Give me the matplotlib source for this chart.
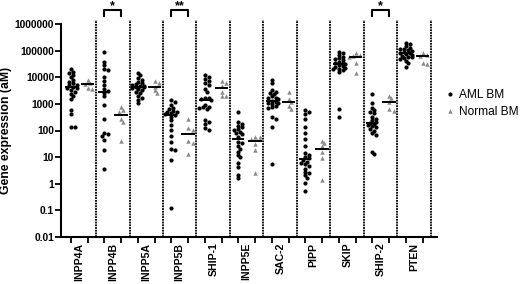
import numpy as np
import matplotlib
matplotlib.use("Agg")
import matplotlib.pyplot as plt
from matplotlib.lines import Line2D

plt.rcParams['font.family'] = ['Liberation Sans', 'DejaVu Sans']

genes = ["INPP4A", "INPP4B", "INPP5A", "INPP5B", "SHIP-1", "INPP5E",
         "SAC-2", "PIPP", "SKIP", "SHIP-2", "PTEN"]

# gene expression (aM), AML bone marrow samples
aml_bm = [
    [20000, 16000, 14000, 12000, 10000, 7800, 6800, 5900, 5100, 5000, 4400,
     4000, 3800, 3300, 2800, 2300, 1900, 1500, 590, 400, 140, 130],            # INPP4A
    [91000, 38000, 29000, 20000, 18000, 10500, 7400, 5100, 3500, 3100, 2600,
     1900, 910, 260, 78, 74, 62, 44, 18, 3.7],                                  # INPP4B
    [15000, 12000, 9100, 7800, 6800, 5900, 5600, 5100, 4800, 4700, 4400, 4200,
     3800, 3500, 3300, 2800, 2500, 1900, 1600, 1400, 1050],                     # INPP5A
    [1400, 1200, 890, 720, 620, 550, 510, 480, 440, 420, 380, 330, 250, 160,
     105, 62, 38, 21, 19, 8.1, 0.12],                                           # INPP5B
    [12000, 10500, 8300, 7200, 5900, 5100, 3500, 2900, 1700, 1600, 1500, 1400,
     890, 780, 740, 680, 620, 250, 210, 180, 120, 105],                         # SHIP-1
    [500, 210, 180, 145, 130, 110, 105, 91, 83, 74, 59, 38, 33, 26, 21, 16,
     12, 10, 5.8, 4.4, 2.1, 1.6],                                               # INPP5E
    [7800, 5900, 3300, 2800, 2600, 2300, 1900, 1700, 1600, 1500, 1300, 1200,
     1100, 1050, 980, 830, 740, 680, 330, 280, 130, 5.5],                       # SAC-2
    [590, 510, 420, 280, 140, 78, 50, 26, 14, 12, 10, 8.9, 7.8, 6.8, 6.2, 5.5,
     4.6, 3.7, 2.8, 2.5, 2.1, 1.7, 1.05, 0.55],                                 # PIPP
    [91000, 79000, 68000, 59000, 51000, 47000, 45000, 38000, 35000, 33000,
     32000, 29000, 26000, 25000, 23000, 21000, 20000, 19000, 16000, 620, 310],  # SKIP
    [2300, 1050, 720, 590, 510, 440, 330, 280, 250, 210, 195, 175, 160, 145,
     130, 115, 98, 78, 68, 16, 13],                                             # SHIP-2
    [200000, 180000, 150000, 130000, 120000, 112000, 105000, 100000, 91000,
     83000, 79000, 74000, 68000, 63000, 59000, 56000, 51000, 47000, 42000,
     35000, 25000],                                                             # PTEN
]

# gene expression (aM), normal bone marrow samples
normal_bm = [
    [7800, 6200, 5500, 4100, 3700],
    [740, 590, 510, 260, 200, 42],
    [7100, 6300, 4400, 3200, 2600],
    [280, 120, 105, 42, 35, 13],
    [7100, 6000, 4800, 2800, 2000, 1900],
    [59, 55, 49, 31, 19, 2.6],
    [2800, 1500, 1200, 830, 660],
    [42, 33, 26, 15, 8.9, 1.4],
    [79000, 66000, 63000, 56000, 35000, 15000],
    [1950, 1600, 1200, 620, 550],
    [79000, 71000, 63000, 35000, 32000],
]

significance = [(1, "*"), (3, "**"), (9, "*")]

ytick_vals = [0.01, 0.1, 1, 10, 100, 1000, 10000, 100000, 1000000]
ytick_labels = ["0.01", "0.1", "1", "10", "100", "1000", "10000", "100000", "1000000"]

W, H = 520, 284
fig = plt.figure(figsize=(W / 100, H / 100), dpi=100)
ax_px = [61, 47, 376, 213]
ax = fig.add_axes([ax_px[0] / W, ax_px[1] / H, ax_px[2] / W, ax_px[3] / H])
xmin, xmax = -0.045, 11.18
ax.set_xlim(xmin, xmax)
ax.set_yscale('log')
ax.set_ylim(0.01, 1e6)

px_per_x = ax_px[2] / (xmax - xmin)
px_per_dec = ax_px[3] / 8.0


def swarm(values, diam):
    # simple beeswarm in pixel space, returns x offsets in data units
    ys = np.log10(np.asarray(values, dtype=float)) * px_per_dec
    order = np.argsort(-ys)
    placed = []
    offs = np.zeros(len(ys))
    step = diam * 0.7
    for i in order:
        k = 0
        while True:
            cands = [0.0] if k == 0 else [k * step, -k * step]
            ok = None
            for c in cands:
                if all((c - px) ** 2 + (ys[i] - py) ** 2 >= diam ** 2 for px, py in placed):
                    ok = c
                    break
            if ok is not None or k >= 3:
                break
            k += 1
        if ok is None:
            ok = cands[0]
        placed.append((ok, ys[i]))
        offs[i] = ok
    return offs / px_per_x


for i in range(len(genes)):
    a = np.array(aml_bm[i], dtype=float)
    n = np.array(normal_bm[i], dtype=float)
    xa = i + 0.25 + swarm(a, 2.9)
    xn = i + 0.75 + swarm(n, 3.2)
    ax.plot(xa, a, 'o', ms=3.0, color='black', mec='none', zorder=3)
    ax.plot(xn, n, '^', ms=3.2, color='#8a8a8a', mec='none', zorder=3)
    ax.plot([i + 0.1, i + 0.4], [np.median(a)] * 2, color='black', lw=1.4, zorder=4)
    ax.plot([i + 0.58, i + 0.92], [np.median(n)] * 2, color='black', lw=1.4, zorder=4)
    # dotted separator after each gene
    ax.plot([i + 1, i + 1], [0.01, 1.45e6], color='black', lw=1.3,
            ls=(0, (1.0, 0.5)), clip_on=False, zorder=2)

for i, mark in significance:
    ax.plot([i + 0.25, i + 0.25, i + 0.75, i + 0.75], [2.0e6, 3.4e6, 3.4e6, 2.0e6],
            color='black', lw=1.5, clip_on=False)
    ax.text(i + 0.5, 4.6e6, mark, ha='center', va='center', fontsize=9,
            fontweight='bold')

for s in ['top', 'right']:
    ax.spines[s].set_visible(False)
for s in ['left', 'bottom']:
    ax.spines[s].set_linewidth(1.5)

ax.set_yticks(ytick_vals)
ax.set_yticklabels(ytick_labels, fontsize=7.4, fontweight='bold')
ax.yaxis.set_minor_locator(matplotlib.ticker.NullLocator())
ax.tick_params(axis='y', length=4, width=1.3, pad=1)

ax.set_xticks(np.arange(len(genes)) + 0.5)
ax.set_xticklabels(genes, rotation=90, fontsize=7.6, fontweight='bold')
ax.set_xticks(np.concatenate([np.arange(len(genes)) + 0.25,
                              np.arange(len(genes)) + 0.75]), minor=True)
ax.tick_params(axis='x', which='major', length=0, pad=4)
ax.tick_params(axis='x', which='minor', length=4, width=1.3)

ax.set_ylabel('Gene expression (aM)', fontsize=8.8, fontweight='bold', labelpad=2)

handles = [Line2D([], [], marker='o', ls='none', ms=3.0, color='black', mec='none'),
           Line2D([], [], marker='^', ls='none', ms=3.2, color='#8a8a8a', mec='none')]
ax.legend(handles, ['AML BM', 'Normal BM'], loc='upper left', frameon=False,
          bbox_to_anchor=(446 / W, 1 - 89 / H), bbox_transform=fig.transFigure,
          fontsize=8.6, handlelength=0.6, handletextpad=0.5, labelspacing=0.45,
          borderpad=0, borderaxespad=0)

fig.savefig('out.png', dpi=100)
